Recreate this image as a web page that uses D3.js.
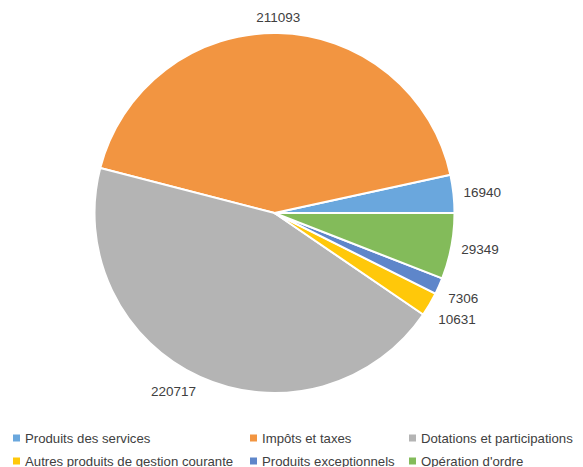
<!DOCTYPE html>
<html>
<head>
<meta charset="utf-8">
<script src="https://cdnjs.cloudflare.com/ajax/libs/d3/7.8.5/d3.min.js"></script>
<style>
  body { margin: 0; background: #fff; }
  text { font-family: "Liberation Sans", "DejaVu Sans", sans-serif; fill: #404040; }
</style>
</head>
<body>
<div id="chart"></div>
<script>
// valeurs
const categories = [
    'Produits des services',
    'Impôts et taxes',
    'Dotations et participations',
    'Autres produits de gestion courante',
    'Produits exceptionnels',
    "Opération d'ordre"
];
const values = [16940, 211093, 220717, 10631, 7306, 29349];
const colors = ['#6AA7DD', '#F29541', '#B4B4B4', '#FFC80A', '#5E86CA', '#83BB5A'];

const width = 583, height = 467;
const cx = 274.5, cy = 213, radius = 180;

const svg = d3.select('#chart')
    .append('svg')
    .attr('width', width)
    .attr('height', height);

const data = categories.map((c, i) => ({ name: c, value: values[i], color: colors[i] }));

// sens anti-horaire depuis 3 heures
const pie = d3.pie()
    .sort(null)
    .value(d => d.value)
    .startAngle(Math.PI / 2)
    .endAngle(Math.PI / 2 - 2 * Math.PI);

const arc = d3.arc().innerRadius(0).outerRadius(radius);

const g = svg.append('g').attr('transform', `translate(${cx},${cy})`);
const arcs = pie(data);

g.selectAll('path')
    .data(arcs)
    .enter()
    .append('path')
    .attr('d', arc)
    .attr('fill', d => d.data.color)
    .attr('stroke', '#fff')
    .attr('stroke-width', 2)
    .attr('stroke-linejoin', 'round');

// étiquettes à l'extérieur
const labelR = radius + 10;
const labels = arcs.map(d => {
    const a = (d.startAngle + d.endAngle) / 2; // angle d3 (0 = midi, sens horaire)
    const sx = Math.sin(a), sy = -Math.cos(a);
    return {
        text: d.data.value,
        x: labelR * sx,
        y: labelR * sy + sy * 6 + (sy > 0.3 && sx > 0.5 ? 6 : 0),
        anchor: sx > 0.1 ? 'start' : (sx < -0.1 ? 'end' : 'middle')
    };
});

// éviter les chevauchements à droite
const right = labels.filter(l => l.anchor === 'start').sort((a, b) => a.y - b.y);
for (let i = 1; i < right.length; i++) {
    if (right[i].y - right[i - 1].y < 21) right[i].y = right[i - 1].y + 21;
}

g.selectAll('text.lbl')
    .data(labels)
    .enter()
    .append('text')
    .attr('class', 'lbl')
    .attr('x', d => d.x)
    .attr('y', d => d.y)
    .attr('dy', '0.35em')
    .attr('text-anchor', d => d.anchor)
    .style('font-size', '13.5px')
    .text(d => d.text);

// légende
const colX = [13, 250, 409];
const rowY = [438, 461];
const legend = svg.append('g');
data.forEach((d, i) => {
    const x = colX[i % 3], y = rowY[Math.floor(i / 3)];
    legend.append('rect')
        .attr('x', x).attr('y', y - 3.5)
        .attr('width', 7).attr('height', 7)
        .attr('fill', d.color);
    legend.append('text')
        .attr('x', x + 12).attr('y', y)
        .attr('dy', '0.35em')
        .style('font-size', '13.2px')
        .text(d.name);
});
</script>
</body>
</html>
